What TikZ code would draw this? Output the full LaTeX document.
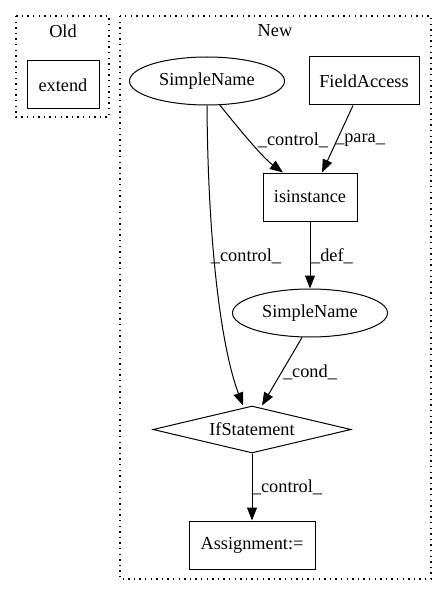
\documentclass[tikz,border=0pt]{standalone}
\usepackage{fontspec}
\setmainfont{Liberation Serif}
\usetikzlibrary{shapes.geometric,arrows.meta,calc}
\begin{document}
\begin{tikzpicture}[x=1pt,y=-1pt,
  every node/.style={font=\fontsize{18.3}{20}\selectfont},
  cluster/.style={draw,line width=1.1pt,dash pattern=on 1.4pt off 4.2pt},
  boxnode/.style={draw,line width=1pt,rectangle,inner sep=0pt},
  ellnode/.style={draw,line width=1pt,ellipse,inner sep=0pt,minimum width=155pt,minimum height=48pt},
  dianode/.style={draw,line width=1pt,diamond,aspect=4.2,inner sep=0pt,minimum width=198pt,minimum height=47pt},
  edge/.style={line width=1pt,-{Triangle[length=13pt,width=10pt]}},
  lbl/.style={inner sep=0pt}]
\useasboundingbox (0,0) rectangle (447,596);
% clusters
\draw[cluster] (16,16) rectangle (109,117);
\node[lbl] (oldlbl) at (63,31) {Old};
\draw[cluster] (120,16) rectangle (431,579);
\node[lbl] (newlbl) at (275,31) {New};
% nodes
\node[boxnode,minimum width=72pt,minimum height=48pt] (extend) at (63,85) {extend};
\node[ellnode] (sn1) at (207,81) {SimpleName};
\node[boxnode,minimum width=110pt,minimum height=48pt] (fa) at (364,81) {FieldAccess};
\node[boxnode,minimum width=94pt,minimum height=48pt] (isi) at (310,197) {isinstance};
\node[ellnode] (sn2) at (310,313) {SimpleName};
\node[dianode] (ifs) at (252,429.5) {IfStatement};
\node[boxnode,minimum width=126pt,minimum height=48pt] (asg) at (252,545) {Assignment:=};
% edges
\draw[edge] (sn1.-62) .. controls (240,130) and (262,157) .. ($(isi.north)+(-27,0)$);
\node[lbl] (l1) at (293,140) {\_control\_};
\draw[edge] ($(fa.south)+(-11,0)$) -- ($(isi.north)+(12,0)$);
\node[lbl] (l2) at (360,140) {\_para\_};
\draw[edge] (sn1.south) .. controls (208,250) and (222,350) .. ($(ifs.north)+(-9,0)$);
\node[lbl] (l3) at (246,256) {\_control\_};
\draw[edge] (isi.south) -- (sn2.north);
\node[lbl] (l4) at (332,256) {\_def\_};
\draw[edge] (sn2.-108) -- ($(ifs.north)+(10,0)$);
\node[lbl] (l5) at (310,372) {\_cond\_};
\draw[edge] (ifs.south) -- (asg.north);
\node[lbl] (l6) at (287,487) {\_control\_};
\end{tikzpicture}
\end{document}
